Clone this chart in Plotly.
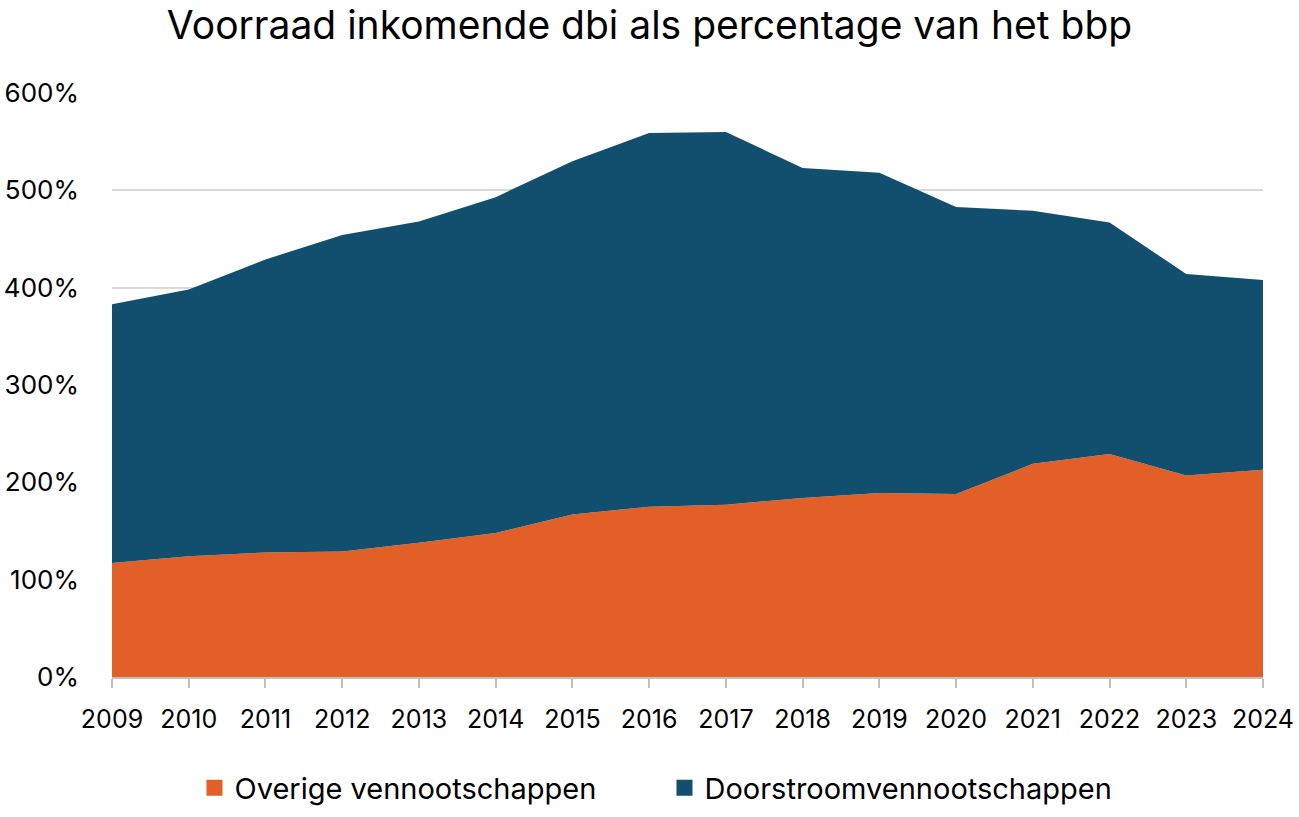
import plotly.graph_objects as go

years = list(range(2009, 2025))
overige = [117, 124, 128, 129, 138, 148, 167, 175, 177, 184, 189, 188, 219, 229, 207, 213]
totaal = [383, 398, 429, 454, 468, 493, 530, 559, 560, 523, 518, 483, 479, 467, 414, 408]
doorstroom = [t - o for t, o in zip(totaal, overige)]
y_ticks = [0, 100, 200, 300, 400, 500, 600]
y_labels = [f"{v}%" for v in y_ticks]
series_names = ["Overige vennootschappen", "Doorstroomvennootschappen"]

orange = "#E35F28"
blue = "#124F6E"

fig = go.Figure()
fig.add_trace(go.Scatter(x=years, y=overige, name=series_names[0],
                         stackgroup="one", mode="none", fillcolor=orange,
                         line=dict(width=0), showlegend=False))
fig.add_trace(go.Scatter(x=years, y=doorstroom, name=series_names[1],
                         stackgroup="one", mode="none", fillcolor=blue,
                         line=dict(width=0), showlegend=False))
# legend swatches
for nm, col in zip(series_names, [orange, blue]):
    fig.add_trace(go.Scatter(x=[None], y=[None], name=nm, mode="markers",
                             marker=dict(symbol="square", size=19, color=col)))

fig.update_layout(
    width=1299, height=817,
    paper_bgcolor="white", plot_bgcolor="white",
    font=dict(family="Inter, Noto Sans, sans-serif", color="#000000", size=25),
    title=dict(text="Voorraad inkomende dbi als percentage van het bbp",
               x=0.5, xanchor="center", y=0.969, yanchor="middle", yref="container",
               font=dict(size=39, color="#000000")),
    margin=dict(l=112, r=36, t=93, b=140, autoexpand=False),
    showlegend=True,
    legend=dict(orientation="h", x=0.48, xanchor="center", y=-0.19, yanchor="middle",
                font=dict(size=29), traceorder="normal", itemsizing="trace",
                entrywidth=425, entrywidthmode="pixels", itemwidth=30),
    xaxis=dict(range=[2009, 2024], tickmode="array", tickvals=years,
               ticktext=[str(y) for y in years],
               showgrid=False, showline=True, linecolor="#BFBFBF", linewidth=1.5,
               ticks="outside", ticklen=9, tickcolor="#BFBFBF", tickwidth=1.5,
               ticklabelstandoff=10, automargin=False,
               tickfont=dict(size=25), zeroline=False, fixedrange=True),
    yaxis=dict(range=[0, 600], tickmode="array", tickvals=y_ticks, ticktext=y_labels,
               showgrid=True, gridcolor="#D9D9D9", gridwidth=1.5,
               zeroline=False, showline=False, ticks="", ticklabelstandoff=32,
               automargin=False,
               tickfont=dict(size=26), fixedrange=True),
)

fig.write_html("out.html", config={"displayModeBar": False},
               post_script="document.body.style.margin='0px';document.body.style.overflow='hidden';")
